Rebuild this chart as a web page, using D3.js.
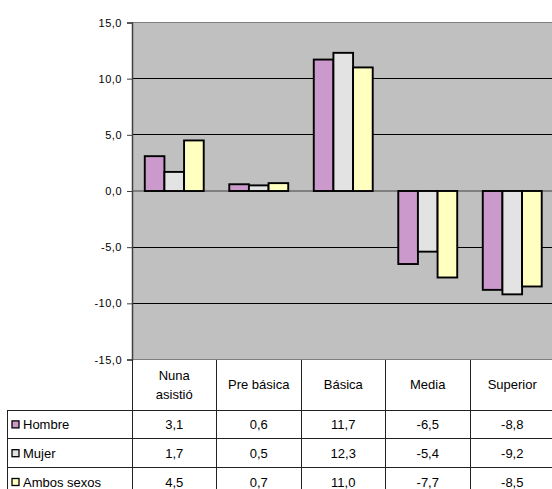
<!DOCTYPE html>
<html>
<head>
<meta charset="utf-8">
<script src="https://cdn.jsdelivr.net/npm/d3@7"></script>
<style>
  body { margin: 0; background: #fff; }
  svg text { font-family: "Liberation Sans", Arial, sans-serif; fill: #000; }
</style>
</head>
<body>
<svg id="chart" width="552" height="489"></svg>
<script>
// data
var categories = ["Nuna asistió", "Pre básica", "Básica", "Media", "Superior"];
var seriesNames = ["Hombre", "Mujer", "Ambos sexos"];
var hombre = [3.1, 0.6, 11.7, -6.5, -8.8];
var mujer = [1.7, 0.5, 12.3, -5.4, -9.2];
var ambos = [4.5, 0.7, 11.0, -7.7, -8.5];
var yTicks = [-15, -10, -5, 0, 5, 10, 15];

var seriesValues = [hombre, mujer, ambos];
var colors = ["#cc99cc", "#e3e3e3", "#ffffc0"];

var svg = d3.select('#chart');
var fmt = v => d3.format('.1f')(v).replace('.', ',').replace('−', '-');

var plot = { left: 132, right: 554.5, top: 22.5, bottom: 359.5 };

var x = d3.scaleBand()
  .domain(categories)
  .range([plot.left, plot.right]);

var x1 = d3.scaleBand()
  .domain(seriesNames)
  .range([0, x.bandwidth()])
  .paddingOuter(0.65);

var y = d3.scaleLinear()
  .domain([-15, 15])
  .range([plot.bottom, plot.top]);

// plot background
svg.append('rect')
  .attr('x', plot.left).attr('y', plot.top)
  .attr('width', plot.right - plot.left).attr('height', plot.bottom - plot.top)
  .attr('fill', '#c0c0c0');

// gridlines
svg.selectAll('.grid')
  .data(yTicks)
  .enter()
  .append('line')
    .classed('grid', true)
    .attr('x1', plot.left).attr('x2', plot.right)
    .attr('y1', d => y(d)).attr('y2', d => y(d))
    .attr('stroke', d => (d === 15 || d === -15 || d === 0) ? '#808080' : '#000')
    .attr('stroke-width', d => d === 0 ? 1.5 : 1)
    .attr('shape-rendering', 'crispEdges');

// bars
var data = [];
categories.forEach((c, i) => {
  seriesNames.forEach((s, j) => data.push({ cat: c, series: s, value: seriesValues[j][i], color: colors[j] }));
});

svg.selectAll('.bar')
  .data(data)
  .enter()
  .append('rect')
    .classed('bar', true)
    .attr('x', d => x(d.cat) + x1(d.series))
    .attr('width', x1.bandwidth())
    .attr('y', d => y(Math.max(0, d.value)))
    .attr('height', d => Math.abs(y(d.value) - y(0)))
    .attr('fill', d => d.color)
    .attr('stroke', '#000')
    .attr('stroke-width', 1.9);

// y axis
var yAxis = d3.axisLeft(y)
  .tickValues(yTicks)
  .tickSize(5)
  .tickPadding(5)
  .tickFormat(fmt);

var gy = svg.append('g')
  .attr('transform', 'translate(' + plot.left + ',0)')
  .call(yAxis);
gy.select('.domain').attr('stroke', '#404040').attr('stroke-width', 1.5);
gy.selectAll('.tick line').attr('stroke', '#404040');
gy.selectAll('.tick text')
  .style('font-size', '11px')
  .style('font-family', '"Liberation Sans", Arial, sans-serif')
  .attr('letter-spacing', '0.5px');

// data table
var headerBottom = 410;
var rowH = 28.8;
var tableLeft = 7.5;
var lineColor = '#222';

var table = svg.append('g').attr('shape-rendering', 'crispEdges');

var hLines = [headerBottom, headerBottom + rowH, headerBottom + 2 * rowH];
table.selectAll('.hline')
  .data(hLines)
  .enter()
  .append('line')
    .attr('x1', tableLeft).attr('x2', 552)
    .attr('y1', d => d).attr('y2', d => d)
    .attr('stroke', lineColor);

var vLines = categories.map(c => x(c));
table.selectAll('.vline')
  .data(vLines)
  .enter()
  .append('line')
    .attr('x1', d => d).attr('x2', d => d)
    .attr('y1', plot.bottom).attr('y2', 489)
    .attr('stroke', lineColor);

table.append('line')
  .attr('x1', tableLeft).attr('x2', tableLeft)
  .attr('y1', headerBottom).attr('y2', 489)
  .attr('stroke', lineColor);

// category header
var headers = svg.selectAll('.cat')
  .data(categories)
  .enter()
  .append('text')
    .attr('x', d => x(d) + x.bandwidth() / 2)
    .attr('text-anchor', 'middle')
    .style('font-size', '13px');

headers.each(function(d) {
  var words = d === "Nuna asistió" ? ["Nuna", "asistió"] : [d];
  var t = d3.select(this);
  var midY = (plot.bottom + headerBottom) / 2;
  words.forEach((w, k) => {
    t.append('tspan')
      .attr('x', x(d) + x.bandwidth() / 2)
      .attr('y', midY + 4.5 + (k - (words.length - 1) / 2) * 19)
      .text(w);
  });
});

// rows
seriesNames.forEach((s, j) => {
  var cy = headerBottom + rowH * j + rowH / 2;
  svg.append('rect')
    .attr('x', 12).attr('y', cy - 3.5)
    .attr('width', 7).attr('height', 7)
    .attr('fill', colors[j])
    .attr('stroke', '#000')
    .attr('stroke-width', 1.3);
  svg.append('text')
    .attr('x', 23).attr('y', cy + 4.5)
    .style('font-size', '13px')
    .text(s);
  svg.selectAll('.val' + j)
    .data(seriesValues[j])
    .enter()
    .append('text')
      .attr('x', (d, i) => x(categories[i]) + x.bandwidth() / 2)
      .attr('y', cy + 4.5)
      .attr('text-anchor', 'middle')
      .style('font-size', '13px')
      .text(d => fmt(d));
});
</script>
</body>
</html>
